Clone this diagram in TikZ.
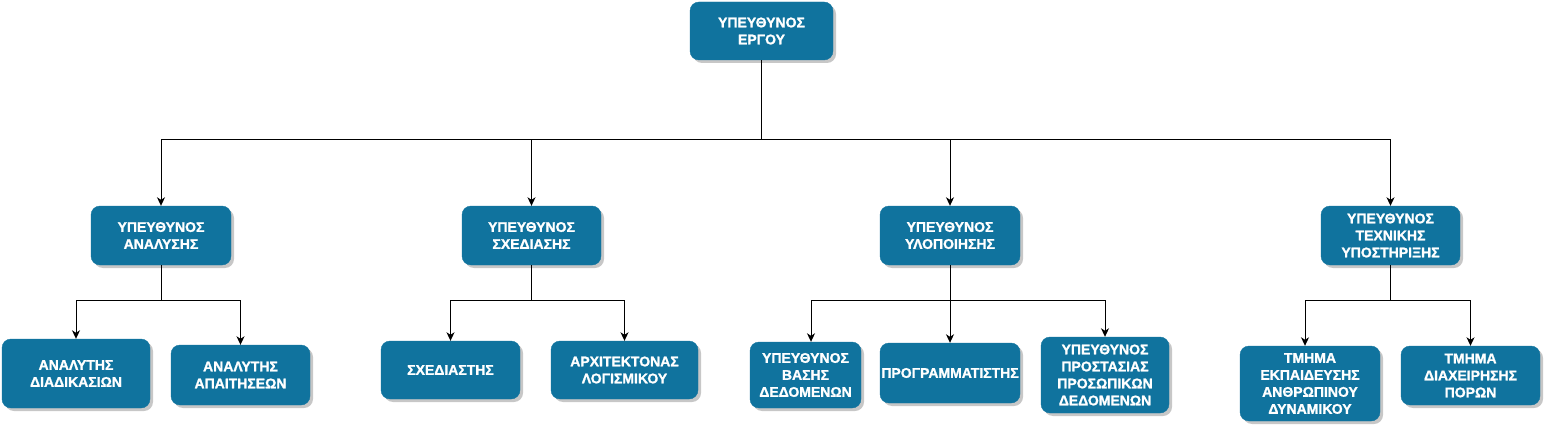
\documentclass[tikz,border=0pt]{standalone}
\usepackage{fontspec}
\setmainfont{Liberation Sans}[BoldFeatures={FakeBold=1.3}]
\usetikzlibrary{arrows.meta,shadows}
\definecolor{boxblue}{HTML}{10739E}
\begin{document}
\begin{tikzpicture}[x=1pt,y=-1pt,
  box/.style={draw=boxblue, fill=boxblue, rounded corners=9pt, text=white,
    font=\bfseries\fontsize{14}{17}\selectfont, align=center, inner sep=0pt,
    drop shadow={shadow xshift=3pt, shadow yshift=-3pt, fill=black, opacity=0.22}},
  conn/.style={line width=1pt, -{Stealth[length=8.5pt,width=8pt,inset=2.5pt]}},
  line/.style={line width=1pt}
]
\useasboundingbox (0,0) rectangle (1545,425);

% level 0
\node[box, minimum width=143pt, minimum height=58pt] (root) at (761.5,31) {ΥΠΕΥΘΥΝΟΣ\\ΕΡΓΟΥ};

% level 1
\node[box, minimum width=140pt, minimum height=59pt] (an) at (161,235.5) {ΥΠΕΥΘΥΝΟΣ\\ΑΝΑΛΥΣΗΣ};
\node[box, minimum width=139pt, minimum height=59pt] (de) at (531.5,235.5) {ΥΠΕΥΘΥΝΟΣ\\ΣΧΕΔΙΑΣΗΣ};
\node[box, minimum width=140pt, minimum height=59pt] (im) at (950,235.5) {ΥΠΕΥΘΥΝΟΣ\\ΥΛΟΠΟΙΗΣΗΣ};
\node[box, minimum width=139pt, minimum height=59pt] (te) at (1390.5,235.5) {ΥΠΕΥΘΥΝΟΣ\\ΤΕΧΝΙΚΗΣ\\ΥΠΟΣΤΗΡΙΞΗΣ};

% level 2
\node[box, minimum width=148pt, minimum height=69pt] (a1) at (76,373.5) {ΑΝΑΛΥΤΗΣ\\ΔΙΑΔΙΚΑΣΙΩΝ};
\node[box, minimum width=139pt, minimum height=60pt] (a2) at (240.5,375) {ΑΝΑΛΥΤΗΣ\\ΑΠΑΙΤΗΣΕΩΝ};
\node[box, minimum width=139pt, minimum height=58pt] (d1) at (450.5,370) {ΣΧΕΔΙΑΣΤΗΣ};
\node[box, minimum width=147pt, minimum height=58pt] (d2) at (624.5,370) {ΑΡΧΙΤΕΚΤΟΝΑΣ\\ΛΟΓΙΣΜΙΚΟΥ};
\node[box, minimum width=111pt, minimum height=66pt] (i1) at (805.5,375) {ΥΠΕΥΘΥΝΟΣ\\ΒΑΣΗΣ\\ΔΕΔΟΜΕΝΩΝ};
\node[box, minimum width=140pt, minimum height=60pt] (i2) at (950,373) {ΠΡΟΓΡΑΜΜΑΤΙΣΤΗΣ};
\node[box, minimum width=128pt, minimum height=76pt] (i3) at (1105,375) {ΥΠΕΥΘΥΝΟΣ\\ΠΡΟΣΤΑΣΙΑΣ\\ΠΡΟΣΩΠΙΚΩΝ\\ΔΕΔΟΜΕΝΩΝ};
\node[box, minimum width=140pt, minimum height=75pt] (t1) at (1310,383.5) {ΤΜΗΜΑ\\ΕΚΠΑΙΔΕΥΣΗΣ\\ΑΝΘΡΩΠΙΝΟΥ\\ΔΥΝΑΜΙΚΟΥ};
\node[box, minimum width=139pt, minimum height=59pt] (t2) at (1470.5,375.5) {ΤΜΗΜΑ\\ΔΙΑΧΕΙΡΗΣΗΣ\\ΠΟΡΩΝ};

% bus levels
\coordinate (b1) at (0,140);
\coordinate (b2) at (0,300);

% connectors level 0 -> 1
\foreach \c in {an,de,im,te}
  \draw[conn] (root.south) -- (root.south |- b1) -| (\c.north);

% connectors level 1 -> 2
\draw[conn] (an.south) -- (an.south |- b2) -| (a1.north);
\draw[conn] (an.south) -- (an.south |- b2) -| (a2.north);
\draw[conn] (de.south) -- (de.south |- b2) -| (d1.north);
\draw[conn] (de.south) -- (de.south |- b2) -| (d2.north);
\draw[conn] (im.south) -- (im.south |- b2) -| ([xshift=5.5pt]i1.north);
\draw[conn] (im.south) -- (im.south |- b2) -| (i2.north);
\draw[conn] (im.south) -- (im.south |- b2) -| (i3.north);
\draw[conn] (te.south) -- (te.south |- b2) -| ([xshift=-5pt]t1.north);
\draw[conn] (te.south) -- (te.south |- b2) -| (t2.north);
\end{tikzpicture}
\end{document}
